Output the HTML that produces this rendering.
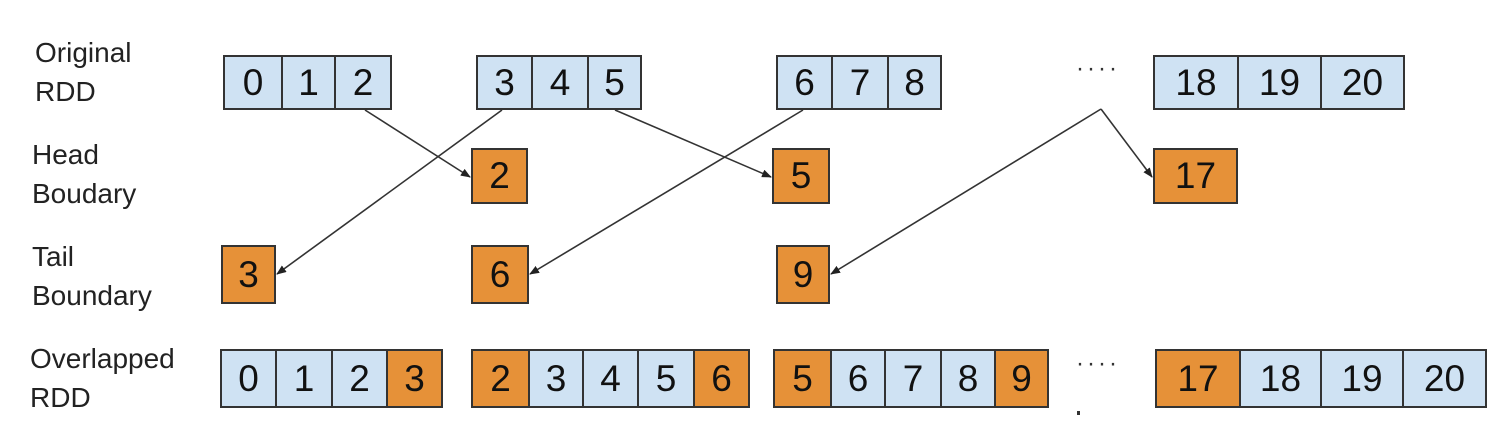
<!DOCTYPE html>
<html><head><style>
body{margin:0;background:#fff;width:1506px;height:436px;position:relative;overflow:hidden;font-family:"Liberation Sans",sans-serif}
.c{position:absolute;box-sizing:border-box;border:2px solid #333;background:#cfe2f3;font-size:37px;color:#111;display:flex;align-items:center;justify-content:center}
.o{background:#e69138}
.l{position:absolute;font-size:28px;color:#222;line-height:39px}
.d{position:absolute;font-size:24px;color:#333;letter-spacing:3px}
</style></head><body>
<div class="l" style="left:35px;top:33px">Original<br>RDD</div>
<div class="l" style="left:32px;top:135px">Head<br>Boudary</div>
<div class="l" style="left:32px;top:237px">Tail<br>Boundary</div>
<div class="l" style="left:30px;top:339px">Overlapped<br>RDD</div>

<div class="c" style="left:223px;top:55px;width:60px;height:55px">0</div>
<div class="c" style="left:281px;top:55px;width:55px;height:55px">1</div>
<div class="c" style="left:334px;top:55px;width:58px;height:55px">2</div>
<div class="c" style="left:476px;top:55px;width:57px;height:55px">3</div>
<div class="c" style="left:531px;top:55px;width:58px;height:55px">4</div>
<div class="c" style="left:587px;top:55px;width:55px;height:55px">5</div>
<div class="c" style="left:776px;top:55px;width:57px;height:55px">6</div>
<div class="c" style="left:831px;top:55px;width:58px;height:55px">7</div>
<div class="c" style="left:887px;top:55px;width:55px;height:55px">8</div>
<div class="c" style="left:1153px;top:55px;width:86px;height:55px">18</div>
<div class="c" style="left:1237px;top:55px;width:85px;height:55px">19</div>
<div class="c" style="left:1320px;top:55px;width:85px;height:55px">20</div>
<div class="d" style="left:1076px;top:55px">····</div>

<div class="c o" style="left:471px;top:148px;width:57px;height:56px">2</div>
<div class="c o" style="left:772px;top:148px;width:58px;height:56px">5</div>
<div class="c o" style="left:1153px;top:148px;width:85px;height:56px">17</div>

<div class="c o" style="left:221px;top:245px;width:55px;height:59px">3</div>
<div class="c o" style="left:471px;top:245px;width:58px;height:59px">6</div>
<div class="c o" style="left:776px;top:245px;width:54px;height:59px">9</div>

<div class="c" style="left:220px;top:349px;width:57px;height:59px">0</div>
<div class="c" style="left:275px;top:349px;width:58px;height:59px">1</div>
<div class="c" style="left:331px;top:349px;width:57px;height:59px">2</div>
<div class="c o" style="left:386px;top:349px;width:57px;height:59px">3</div>
<div class="c o" style="left:471px;top:349px;width:59px;height:59px">2</div>
<div class="c" style="left:528px;top:349px;width:56px;height:59px">3</div>
<div class="c" style="left:582px;top:349px;width:57px;height:59px">4</div>
<div class="c" style="left:637px;top:349px;width:58px;height:59px">5</div>
<div class="c o" style="left:693px;top:349px;width:57px;height:59px">6</div>
<div class="c o" style="left:773px;top:349px;width:59px;height:59px">5</div>
<div class="c" style="left:830px;top:349px;width:56px;height:59px">6</div>
<div class="c" style="left:884px;top:349px;width:58px;height:59px">7</div>
<div class="c" style="left:940px;top:349px;width:56px;height:59px">8</div>
<div class="c o" style="left:994px;top:349px;width:55px;height:59px">9</div>
<div class="c o" style="left:1155px;top:349px;width:86px;height:59px">17</div>
<div class="c" style="left:1239px;top:349px;width:83px;height:59px">18</div>
<div class="c" style="left:1320px;top:349px;width:84px;height:59px">19</div>
<div class="c" style="left:1402px;top:349px;width:85px;height:59px">20</div>
<div class="d" style="left:1076px;top:350px">····</div>
<div style="position:absolute;left:1077px;top:411px;width:3px;height:4px;background:#333"></div>

<svg width="1506" height="436" style="position:absolute;left:0;top:0">
<defs><marker id="a" markerWidth="10" markerHeight="8" refX="9" refY="4" orient="auto" markerUnits="userSpaceOnUse"><path d="M0,0 L10,4 L0,8 Z" fill="#222"/></marker></defs>
<g stroke="#333" stroke-width="1.6" fill="none">
<line x1="365" y1="110" x2="470" y2="177" marker-end="url(#a)"/>
<line x1="502" y1="110" x2="277" y2="274" marker-end="url(#a)"/>
<line x1="615" y1="110" x2="771" y2="177" marker-end="url(#a)"/>
<line x1="803" y1="110" x2="530" y2="274" marker-end="url(#a)"/>
<line x1="1101" y1="109" x2="831" y2="274" marker-end="url(#a)"/>
<line x1="1101" y1="109" x2="1152" y2="177" marker-end="url(#a)"/>
</g>
</svg>
</body></html>
